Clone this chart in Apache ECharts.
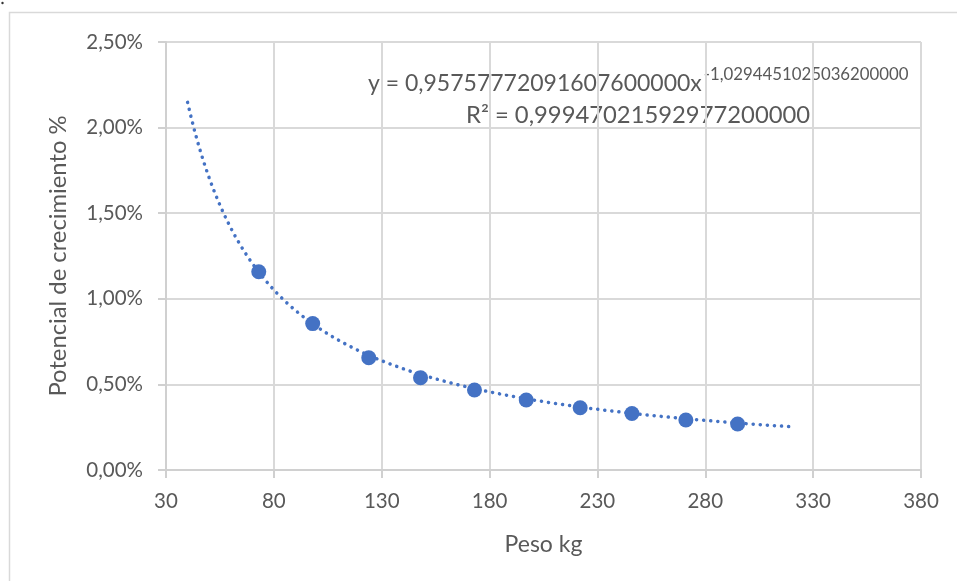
<!DOCTYPE html>
<html>
<head>
<meta charset="utf-8">
<script src="https://cdn.jsdelivr.net/npm/echarts@6/dist/echarts.min.js"></script>
<style>
  html, body { margin: 0; padding: 0; background: #ffffff; }
  #chart { width: 957px; height: 581px; }
</style>
</head>
<body>
<div id="chart"></div>
<script>
// Weight (kg) of each measurement and its growth potential (fraction)
const pesoKg = [73, 98, 124, 148, 173, 197, 222, 246, 271, 295];
const potencial = [0.01158, 0.00855, 0.00656, 0.00539, 0.00467, 0.00409, 0.00364, 0.00330, 0.00292, 0.00269];

// Power trendline y = a * x^b, fitted over the range below
const trendCoefA = 0.95757772091607600000;
const trendCoefB = -1.02944510250362000000;
const trendRange = [40, 320];
const trendText = ['0,95757772091607600000', '-1,0294451025036200000', '0,99947021592977200000'];

// X and Y axis tick settings
const xTicks = { min: 30, max: 380, interval: 50 };
const yTicks = { min: 0, max: 0.025, interval: 0.005 };

const trendLine = [];
for (let x = trendRange[0]; x <= trendRange[1]; x += 1) {
  trendLine.push([x, trendCoefA * Math.pow(x, trendCoefB)]);
}

const FONT = 'Lato';
const GREY = '#595959';
const BLUE = '#4472C4';

const chart = echarts.init(document.getElementById('chart'), null, { renderer: 'canvas' });
chart.setOption({
  backgroundColor: '#ffffff',
  animation: false,
  grid: { left: 166, right: 36, top: 42, bottom: 111, containLabel: false },
  xAxis: {
    type: 'value',
    min: xTicks.min, max: xTicks.max, interval: xTicks.interval,
    name: 'Peso kg',
    nameLocation: 'middle',
    nameGap: 63,
    nameTextStyle: { fontFamily: FONT, fontSize: 23, color: GREY },
    axisLine: { show: true, lineStyle: { color: '#d0d0d0', width: 2 } },
    axisTick: { show: true, length: 8, lineStyle: { color: '#d0d0d0', width: 2 } },
    axisLabel: { fontFamily: FONT, fontSize: 20.5, color: GREY, margin: 21 },
    splitLine: { show: true, lineStyle: { color: '#d9d9d9', width: 2 } }
  },
  yAxis: {
    type: 'value',
    min: yTicks.min, max: yTicks.max, interval: yTicks.interval,
    name: 'Potencial de crecimiento %',
    nameLocation: 'middle',
    nameGap: 96,
    nameRotate: 90,
    nameTextStyle: { fontFamily: FONT, fontSize: 23.8, color: GREY },
    axisLine: { show: true, lineStyle: { color: '#d0d0d0', width: 2 } },
    axisTick: { show: true, length: 8, lineStyle: { color: '#d0d0d0', width: 2 } },
    axisLabel: {
      fontFamily: FONT, fontSize: 20.5, color: GREY, margin: 23,
      formatter: v => (v * 100).toFixed(2).replace('.', ',') + '%'
    },
    splitLine: { show: true, lineStyle: { color: '#d9d9d9', width: 2 } }
  },
  series: [
    {
      name: 'Tendencia',
      type: 'line',
      data: trendLine,
      showSymbol: false,
      smooth: false,
      lineStyle: { color: BLUE, width: 3.5, type: [0.1, 7], cap: 'round' },
      z: 2
    },
    {
      name: 'Potencial',
      type: 'scatter',
      data: pesoKg.map((x, i) => [x, potencial[i]]),
      symbol: 'circle',
      symbolSize: 15,
      itemStyle: { color: BLUE, opacity: 1 },
      z: 3
    }
  ],
  graphic: [
    {
      type: 'rect',
      shape: { x: 9.5, y: 12.5, width: 1000, height: 700 },
      style: { fill: 'none', stroke: '#d9d9d9', lineWidth: 1.5 },
      silent: true, z: -10
    },
    {
      type: 'circle',
      shape: { cx: 2.5, cy: 3, r: 1.2 },
      style: { fill: '#333333' },
      silent: true
    },
    {
      type: 'text',
      left: 368, top: 66,
      style: {
        text: '{b|y = ' + trendText[0] + 'x}{s|' + trendText[1] + '}',
        rich: {
          b: { fontFamily: FONT, fontSize: 23, fill: GREY, verticalAlign: 'bottom' },
          s: { fontFamily: FONT, fontSize: 16.8, fill: GREY, verticalAlign: 'top', padding: [0, 0, 12, 2] }
        }
      }
    },
    {
      type: 'text',
      left: 466, top: 103,
      style: {
        text: 'R² = ' + trendText[2],
        fontFamily: FONT, fontSize: 23.8, fill: GREY
      }
    }
  ]
});
</script>
</body>
</html>
